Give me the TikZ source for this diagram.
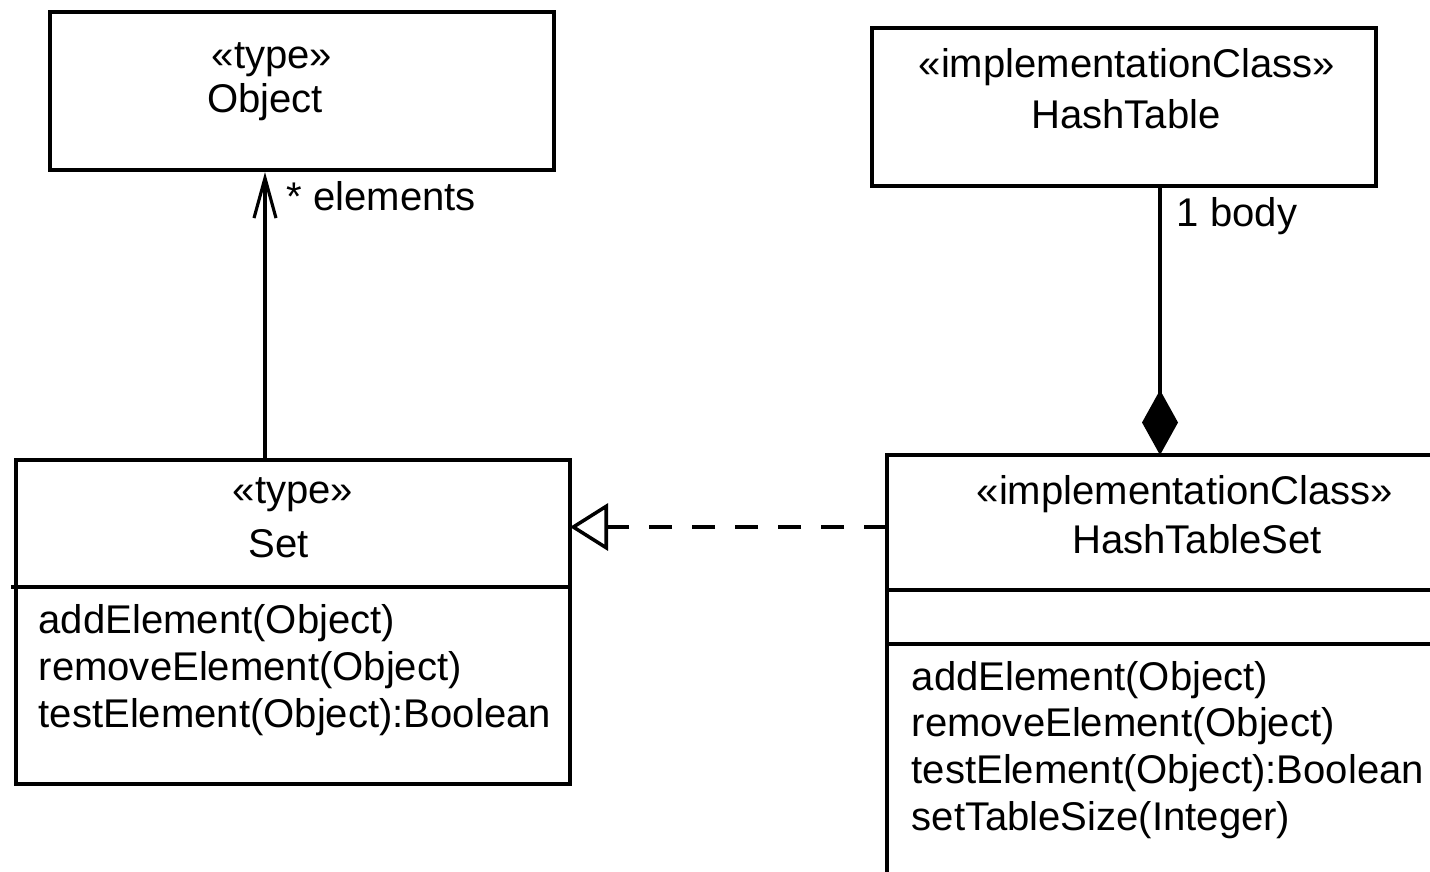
\documentclass[tikz,border=0pt]{standalone}
\usepackage{fontspec}
\setmainfont{Liberation Sans}
\usetikzlibrary{arrows.meta,positioning}
\tikzstyle{classBox} = [rectangle, draw, line width=1.2pt, minimum width=5.04cm, minimum height=1.58cm, inner sep=0pt]
\tikzstyle{compBox} = [rectangle, draw, line width=1.2pt, inner sep=0pt, outer sep=0pt]
\tikzstyle{txt} = [inner sep=0pt, anchor=base]
\tikzstyle{opTxt} = [inner sep=0pt, anchor=base west]
\tikzstyle{assoc} = [draw, line width=0.9pt, -{Straight Barb[length=4mm,width=2.2mm]}]
\tikzstyle{compo} = [draw, line width=1.1pt, {Diamond[length=6.5mm,width=3.6mm]}-]
\tikzstyle{realize} = [draw, line width=1pt, dash pattern=on 2.3mm off 2mm, -{Triangle[open,length=3.8mm,width=4.7mm,line width=1pt]}]
\tikzstyle{lbl} = [inner sep=0pt, anchor=base west]
\begin{document}
\begin{tikzpicture}[font=\fontsize{11.4}{13.4}\selectfont]
  \useasboundingbox (0,0) rectangle (14.3,-8.71);
  \clip (0,0) rectangle (14.3,-8.71);

    % nodes
    \node [classBox] (obj) at (3.02,-0.91) {};
    \node [classBox] (ht) at (11.24,-1.07) {};
    \node [compBox, minimum width=5.54cm, minimum height=1.27cm] (setHead) at (2.93,-5.235) {};
    \node [compBox, minimum width=5.54cm, minimum height=1.97cm, below=0pt of setHead] (setOps) {};
    \node [compBox, minimum width=5.46cm, minimum height=1.35cm] (htsHead) at (11.60,-5.225) {};
    \node [compBox, minimum width=5.46cm, minimum height=0.54cm, below=0pt of htsHead] (htsAttr) {};
    \node [compBox, minimum width=5.46cm, minimum height=2.6cm, below=0pt of htsAttr] (htsOps) {};

    % texts
    \node [txt] (objSt) at (2.72,-0.68) {«type»};
    \node [txt] (objName) at (2.65,-1.12) {Object};
    \node [txt] (htSt) at (11.27,-0.77) {«implementationClass»};
    \node [txt] (htName) at (11.26,-1.28) {HashTable};
    \node [txt] (setSt) at (2.93,-5.03) {«type»};
    \node [txt] (setName) at (2.79,-5.57) {Set};
    \node [txt] (htsSt) at (11.85,-5.04) {«implementationClass»};
    \node [txt] (htsName) at (11.97,-5.53) {HashTableSet};

    \foreach \op [count=\i] in {addElement(Object), removeElement(Object), testElement(Object):Boolean}
      \node [opTxt] (setOp\i) at (0.38,{-6.33-0.47*(\i-1)}) {\op};
    \foreach \op [count=\i] in {addElement(Object), removeElement(Object), testElement(Object):Boolean, setTableSize(Integer)}
      \node [opTxt] (htsOp\i) at (9.11,{-6.90-0.467*(\i-1)}) {\op};

    % edges
    \path [assoc] ([xshift=-0.28cm]setHead.north) -- node[lbl, pos=0.868, xshift=0.2cm] {* elements} ([xshift=-0.28cm]setHead.north |- obj.south);
    \path [compo] (htsHead.north) -- node[lbl, pos=0.858, xshift=0.15cm] {1 body} (htsHead.north |- ht.south);
    \path [realize] ([yshift=-0.045cm]htsHead.west) -- ([yshift=-0.045cm]htsHead.west -| setHead.east);
    \draw [line width=1.2pt] ([xshift=-0.05cm]setHead.south west) -- (setHead.south west);

  \end{tikzpicture}
\end{document}
